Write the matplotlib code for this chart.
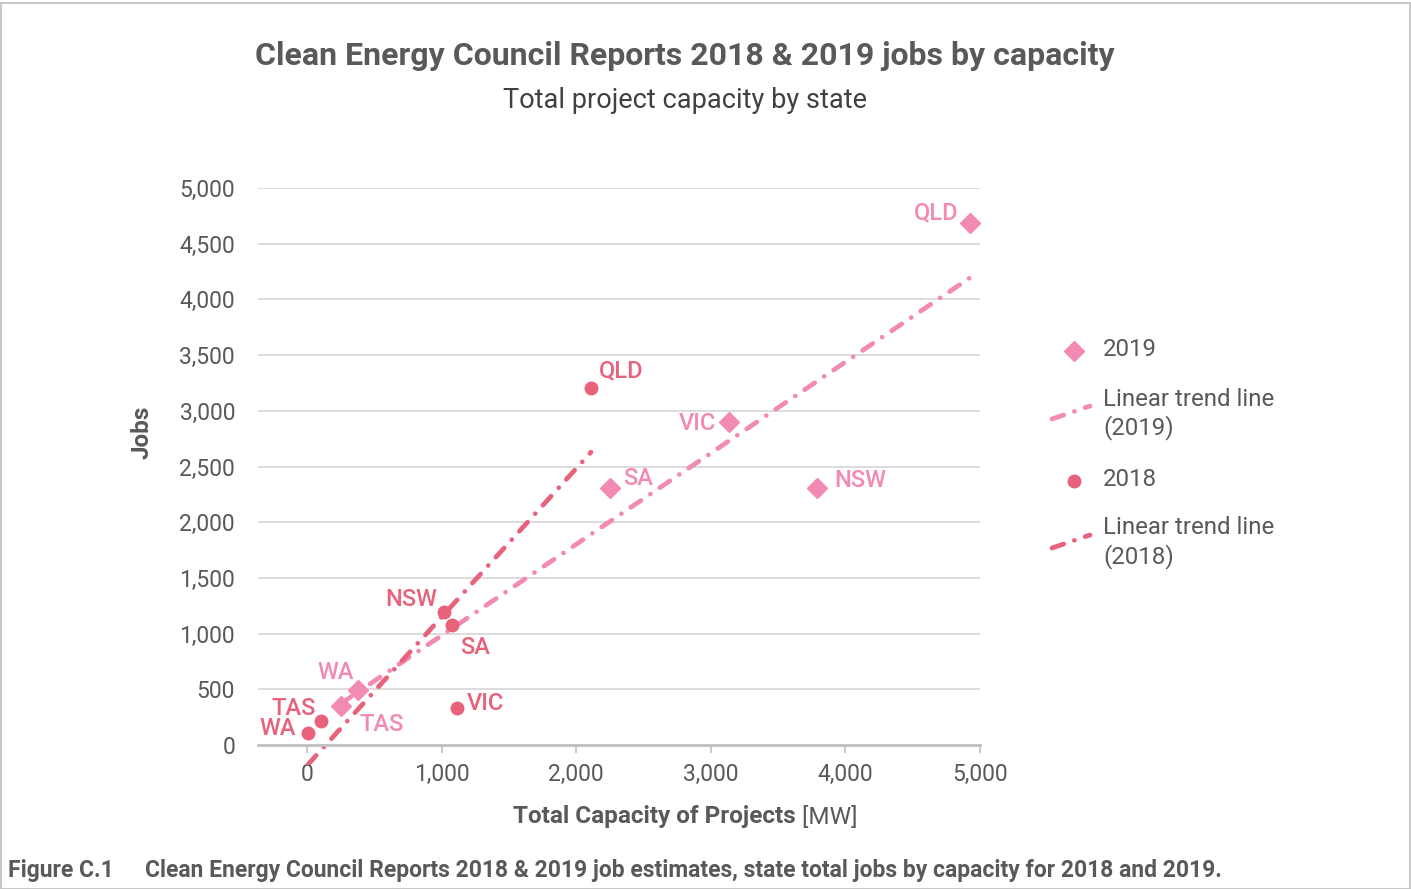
import numpy as np
import matplotlib
matplotlib.use("Agg")
import matplotlib.pyplot as plt
from matplotlib.patches import Rectangle

plt.rcParams['font.family'] = ['Roboto', 'DejaVu Sans']

# ---- data ----
states_2019 = ["QLD", "VIC", "SA", "NSW", "WA", "TAS"]
cap_2019 = [4926, 3135, 2251, 3789, 379, 253]
jobs_2019 = [4686, 2900, 2307, 2307, 494, 350]

states_2018 = ["QLD", "NSW", "SA", "VIC", "TAS", "WA"]
cap_2018 = [2110, 1018, 1077, 1114, 104, 7]
jobs_2018 = [3205, 1194, 1077, 332, 215, 108]

x_ticks = [0, 1000, 2000, 3000, 4000, 5000]
y_ticks = [0, 500, 1000, 1500, 2000, 2500, 3000, 3500, 4000, 4500, 5000]

title = "Clean Energy Council Reports 2018 & 2019 jobs by capacity"
subtitle = "Total project capacity by state"
caption_tag = "Figure C.1"
caption = "Clean Energy Council Reports 2018 & 2019 job estimates, state total jobs by capacity for 2018 and 2019."

# label offsets (pixels) and alignment
off_2019 = {"QLD": (-12, 10, 'right'), "VIC": (-13, -2, 'right'), "SA": (13, 10, 'left'),
            "NSW": (17, 8, 'left'), "WA": (-22, 17, 'center'), "TAS": (18, -18, 'left')}
off_2018 = {"QLD": (8, 17, 'left'), "NSW": (-7, 12, 'right'), "SA": (8, -22, 'left'),
            "VIC": (10, 5, 'left'), "TAS": (-5, 13, 'right'), "WA": (-12, 4, 'right')}

C19 = "#F28AB3"
C18 = "#E8627C"
TXT = "#595959"

W, H = 1411, 889
fig = plt.figure(figsize=(W / 100, H / 100), dpi=100)
fig.patches.append(Rectangle((0.5 / W, 0.5 / H), 1 - 1.5 / W, 1 - 3 / H, transform=fig.transFigure,
                             fill=False, edgecolor="#BFBFBF", linewidth=1.2))

ylo = -180
top_px, zero_px = 188, 745
ppj = (zero_px - top_px) / 5000
bot_px = zero_px - ylo * ppj
ax = fig.add_axes([258 / W, 1 - bot_px / H, (980 - 258) / W, (bot_px - top_px) / H])
ax.set_xlim(-364, 5000)
ax.set_ylim(ylo, 5000)
for s in ['top', 'right', 'left']:
    ax.spines[s].set_visible(False)
ax.spines['bottom'].set_position(('data', 0))
ax.spines['bottom'].set_color("#BFBFBF")
ax.spines['bottom'].set_linewidth(2)
ax.set_yticks(y_ticks)
ax.set_yticklabels([f"{v:,}" for v in y_ticks])
ax.set_xticks(x_ticks)
ax.set_xticklabels([f"{v:,}" for v in x_ticks])
ax.tick_params(axis='y', length=0, pad=16.5, labelsize=16.5, labelcolor=TXT)
ax.tick_params(axis='x', length=6, width=1.2, color="#BFBFBF", pad=7, labelsize=16.5, labelcolor=TXT)
for v in y_ticks[1:]:
    ax.axhline(v, color="#D9D9D9", lw=1.3, zorder=0)

ls = (0, (2.6, 2.4, 0.01, 2.4))
# trend lines
for cx, jy, col in [(cap_2019, jobs_2019, C19), (cap_2018, jobs_2018, C18)]:
    m, b = np.polyfit(cx, jy, 1)
    xs = np.array([min(cx), max(cx)])
    ax.plot(xs, m * xs + b, color=col, lw=3.4, linestyle=ls, dash_capstyle='round', zorder=2)

ax.plot(cap_2019, jobs_2019, 'D', color=C19, ms=10, ls='none', zorder=3)
ax.plot(cap_2018, jobs_2018, 'o', color=C18, ms=9, ls='none', zorder=3)

for st, xv, yv in zip(states_2019, cap_2019, jobs_2019):
    dx, dy, ha = off_2019[st]
    ax.annotate(st, (xv, yv), xytext=(dx, dy), textcoords='offset pixels', ha=ha, va='center',
                color=C19, fontsize=17, fontweight='medium', zorder=4)
for st, xv, yv in zip(states_2018, cap_2018, jobs_2018):
    dx, dy, ha = off_2018[st]
    ax.annotate(st, (xv, yv), xytext=(dx, dy), textcoords='offset pixels', ha=ha, va='center',
                color=C18, fontsize=17, fontweight='medium', zorder=4)

# axis labels
fig.text(142 / W, 1 - 432 / H, "Jobs", rotation=90, ha='center', va='center', color=TXT,
         fontsize=17.5, fontweight='bold')
t1 = fig.text(0, 1 - 817 / H, "Total Capacity of Projects", ha='left', va='center', color=TXT,
              fontsize=17.5, fontweight='bold')
t2 = fig.text(0, 1 - 817 / H, " [MW]", ha='left', va='center', color=TXT, fontsize=17.5)
fig.canvas.draw()
r = fig.canvas.get_renderer()
w1 = t1.get_window_extent(r).width
w2 = t2.get_window_extent(r).width
start = 685 - (w1 + w2) / 2
t1.set_x(start / W)
t2.set_x((start + w1) / W)

fig.text(685 / W, 1 - 56 / H, title, ha='center', va='center', color=TXT, fontsize=23, fontweight='bold')
fig.text(685 / W, 1 - 100 / H, subtitle, ha='center', va='center', color="#404040", fontsize=19.5)

fig.text(8 / W, 1 - 870 / H, caption_tag, ha='left', va='center', color=TXT, fontsize=16.5, fontweight='bold')
fig.text(145 / W, 1 - 870 / H, caption, ha='left', va='center', color=TXT, fontsize=16.5, fontweight='bold')

# legend (drawn in pixel coordinates)
lg = fig.add_axes([0, 0, 1, 1], facecolor='none')
lg.set_xlim(0, W)
lg.set_ylim(H, 0)
lg.axis('off')
lg.plot([1074], [351], 'D', color=C19, ms=10)
lg.plot([1052, 1090], [419, 406], color=C19, lw=3.4, linestyle=ls, dash_capstyle='round')
lg.plot([1074], [481], 'o', color=C18, ms=9)
lg.plot([1052, 1090], [548, 535], color=C18, lw=3.4, linestyle=ls, dash_capstyle='round')
lkw = dict(ha='left', va='center', color=TXT, fontsize=17.3)
lg.text(1103, 349, "2019", **lkw)
lg.text(1103, 399, "Linear trend line", **lkw)
lg.text(1103, 428, "(2019)", **lkw)
lg.text(1103, 479, "2018", **lkw)
lg.text(1103, 528, "Linear trend line", **lkw)
lg.text(1103, 557, "(2018)", **lkw)

fig.savefig("out.png", dpi=100)
